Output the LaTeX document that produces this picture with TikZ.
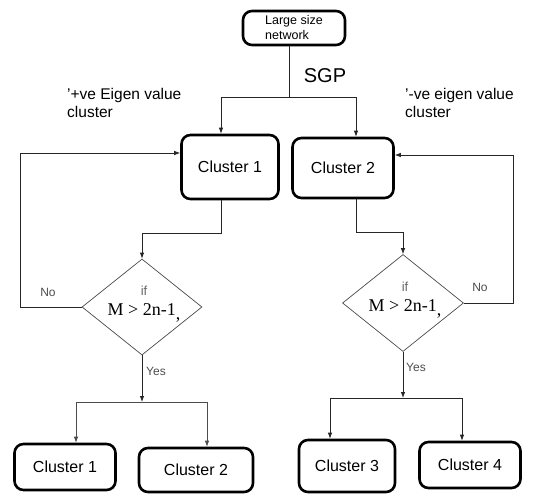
\documentclass[tikz,border=0pt]{standalone}
\usepackage{fontspec}
\setmainfont{Liberation Sans}
\newfontfamily\timesfont{Liberation Serif}
\usetikzlibrary{shapes.geometric}
\usetikzlibrary{arrows.meta}
\usetikzlibrary{calc}

\begin{document}
\begin{tikzpicture}[x=1pt,y=-1pt,
      cluster/.style = {draw, line width=2.6pt, rounded corners=9pt,
         align=center, font=\fontsize{16}{18}\selectfont},
      decision/.style = {draw=black!70, diamond, line width=0.7pt,
         inner sep=0pt, minimum width=120pt, minimum height=96pt},
      flow/.style = {line width=0.8pt, draw=black!85},
      arr/.style = {flow, -{Latex[length=6pt,width=4.5pt]}},
      note/.style = {font=\fontsize{15.5}{18}\selectfont, align=left,
         inner sep=0pt, anchor=north west},
      tag/.style = {font=\fontsize{12}{14}\selectfont, text=black!70},
      cond/.style = {align=center, inner sep=0pt,
         font=\timesfont\fontsize{18}{20}\selectfont}
]
   \useasboundingbox (0,0) rectangle (533,496);

   % top of the tree
   \node[cluster, font=\fontsize{12.5}{15}\selectfont, align=left,
      minimum width=102pt, minimum height=34pt] (net) at (294,28)
      {Large size\\network};
   \node[font=\fontsize{20}{24}\selectfont] (sgp) at (325,76) {SGP};

   \node[note] (pos) at (67,88) {'+ve Eigen value\\cluster};
   \node[note] (neg) at (405,88) {'-ve eigen value\\cluster};

   \node[cluster, minimum width=97pt, minimum height=64pt] (c1) at (230,167)
      {Cluster 1};
   \node[cluster, minimum width=101pt, minimum height=60pt] (c2) at (343,168)
      {Cluster 2};

   % decisions
   \node[decision] (d1) at (142,307) {};
   \node[cond] (d1t) at (144,304) {{\normalfont\fontsize{13}{14}\selectfont\color{black!60}if}\\
      M > 2n-1\raisebox{-4pt}{,}};
   \node[decision, minimum width=121pt, minimum height=97pt] (d2) at (403,303) {};
   \node[cond] (d2t) at (405,300) {{\normalfont\fontsize{13}{14}\selectfont\color{black!60}if}\\
      M > 2n-1\raisebox{-4pt}{,}};

   \node[tag] (no1) at (48,292) {No};
   \node[tag] (no2) at (480,287) {No};
   \node[tag] (yes1) at (156,371) {Yes};
   \node[tag] (yes2) at (416,367) {Yes};

   % bottom clusters
   \node[cluster, minimum width=101pt, minimum height=46pt] (c1b) at (65,467)
      {Cluster 1};
   \node[cluster, minimum width=114pt, minimum height=44pt] (c2b) at (196,470)
      {Cluster 2};
   \node[cluster, minimum width=96pt, minimum height=52pt] (c3) at (347,466)
      {Cluster 3};
   \node[cluster, minimum width=101pt, minimum height=46pt] (c4) at (470,465)
      {Cluster 4};

   % junctions
   \coordinate (s0) at (289,97);
   \coordinate (j1) at (221,233);
   \coordinate (j2) at (356,232);
   \coordinate (fb1) at (20,153);
   \coordinate (fb2) at (513,155);
   \coordinate (y1) at (142,402);
   \coordinate (y2) at (403,398);

   % SGP split
   \draw[flow] ([xshift=-5pt]net.south) -- (s0);
   \draw[arr] (s0) -| ([xshift=-9pt]c1.north);
   \draw[arr] (s0) -| ([xshift=13pt]c2.north);

   % left branch
   \draw[arr] ([xshift=-9pt]c1.south) -- (j1) -| (d1.north);
   \draw[arr] (d1.west) -| (fb1) -- (c1.west |- fb1);
   \draw[arr] (d1.south) -- (y1);
   \draw[arr, draw=black!70] (y1) -| ([xshift=11pt]c1b.north);
   \draw[arr, draw=black!70] (y1) -| ([xshift=11pt]c2b.north);

   % right branch
   \draw[arr] ([xshift=13pt]c2.south) -- (j2) -| (d2.north);
   \draw[arr] (d2.east) -| (fb2) -- (c2.east |- fb2);
   \draw[arr] (d2.south) -- (y2);
   \draw[arr] (y2) -| ([xshift=-17pt]c3.north);
   \draw[arr] (y2) -| ([xshift=-8pt]c4.north);
\end{tikzpicture}
\end{document}
